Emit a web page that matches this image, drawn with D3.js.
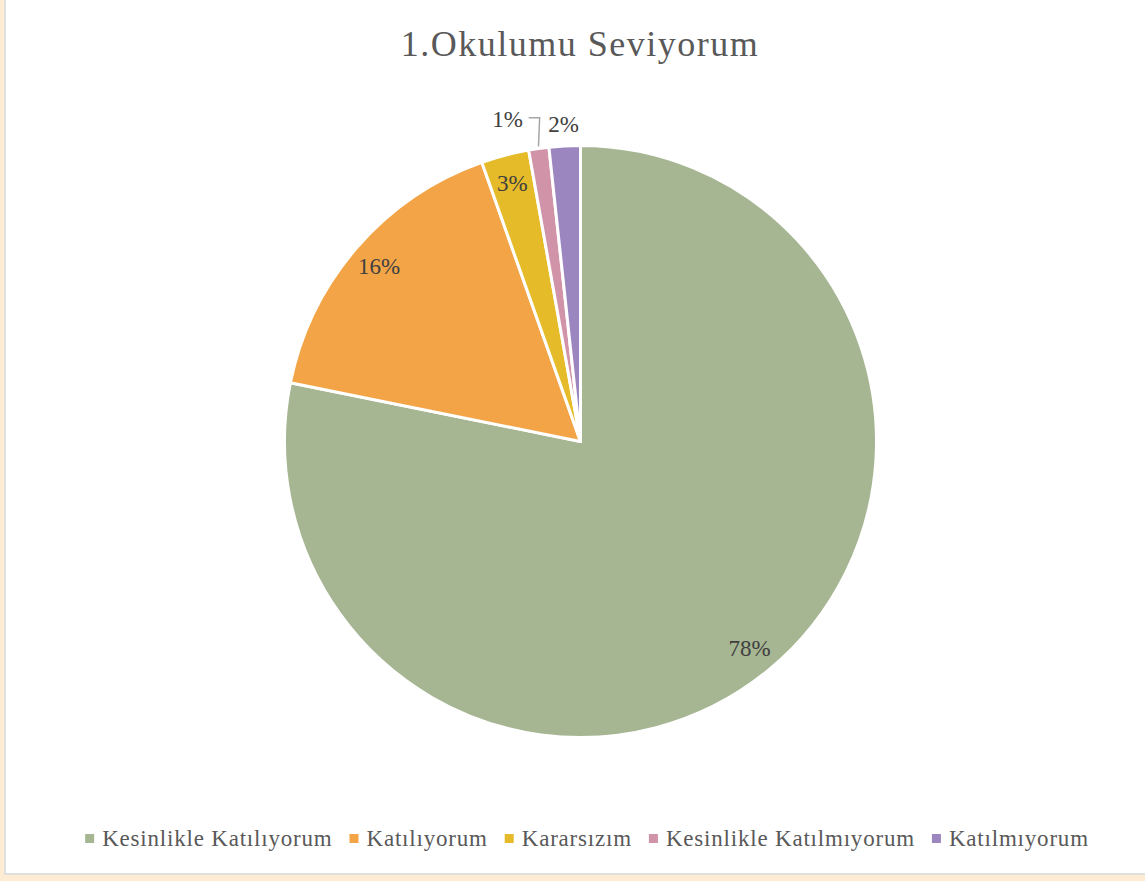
<!DOCTYPE html>
<html><head><meta charset="utf-8">
<script src="https://cdn.jsdelivr.net/npm/d3@7"></script>
<style>html,body{margin:0;padding:0;background:#fff;}svg{display:block;}</style>
</head><body>
<svg id="c" width="1145" height="881"></svg>
<script>
const categories = ["Kesinlikle Katılıyorum", "Katılıyorum", "Kararsızım", "Kesinlikle Katılmıyorum", "Katılmıyorum"];
const values = [78.1, 16.4, 2.6, 1.1, 1.7];
const colors = ["#a6b592", "#f3a447", "#e6bb2a", "#d193a8", "#9c86c0"];
const title = "1.Okulumu Seviyorum";

const W = 1145, H = 881;
const svg = d3.select("#c");
const FONT = "'Liberation Serif', serif";

// frame
svg.append("rect").attr("x",0).attr("y",0).attr("width",W).attr("height",H).attr("fill","#fdebd4");
svg.append("rect").attr("x",4).attr("y",-2).attr("width",W+2).attr("height",H-2-2).attr("fill","#e0e0e0");
svg.append("rect").attr("x",6).attr("y",-2).attr("width",W).attr("height",H-4-2).attr("fill","#ffffff");

svg.append("text").attr("x",580).attr("y",56).attr("text-anchor","middle")
  .attr("font-family",FONT).attr("font-size",36).attr("letter-spacing",1.5).attr("fill","#595959").text(title);

const cx = 580.5, cy = 441.5, R = 296;
const total = d3.sum(values);
const pie = d3.pie().sort(null).value(d=>d)(values);
const arc = d3.arc().innerRadius(0).outerRadius(R);
const g = svg.append("g").attr("transform",`translate(${cx},${cy})`);
g.selectAll("path").data(pie).join("path").attr("d",arc)
  .attr("fill",(d,i)=>colors[i]).attr("stroke","#fff").attr("stroke-width",3).attr("stroke-linejoin","round");

const pct = v => Math.round(v/total*100) + "%";
const inArc = d3.arc().innerRadius(267).outerRadius(267);
const outArc = d3.arc().innerRadius(318).outerRadius(318);
pie.forEach((d,i)=>{
  const small = (d.endAngle-d.startAngle) < 0.14;
  let [x,y] = small ? outArc.centroid(d) : inArc.centroid(d);
  if (i === 3) {
    const [ex,ey] = d3.arc().innerRadius(R+2).outerRadius(R+2).centroid(d);
    const lx = x - 28, ly = y - 8;
    g.append("polyline").attr("points",`${lx+21},${ly-1} ${lx+32},${ly-1} ${ex},${ey}`)
      .attr("fill","none").attr("stroke","#a6a6a6").attr("stroke-width",1.5);
    x = lx; y = ly;
  }
  g.append("text").attr("x",x).attr("y",y).attr("text-anchor","middle").attr("dy","0.35em")
    .attr("font-family",FONT).attr("font-size",23).attr("fill","#404040").text(pct(values[i]));
});

// legend
const lg = svg.append("g");
const lfs = 23, ls = 0.8;
const tmp = svg.append("text").attr("font-family",FONT).attr("font-size",lfs).attr("letter-spacing",ls);
const widths = categories.map(c=>{tmp.text(c); return tmp.node().getComputedTextLength();});
tmp.remove();
const gap = 17, sq = 9, sqGap = 8;
const totalW = d3.sum(widths) + categories.length*(sq+sqGap) + (categories.length-1)*gap;
let x0 = 587 - totalW/2;
categories.forEach((c,i)=>{
  lg.append("rect").attr("x",x0).attr("y",834).attr("width",sq).attr("height",sq).attr("fill",colors[i]);
  lg.append("text").attr("x",x0+sq+sqGap).attr("y",846).attr("font-family",FONT).attr("font-size",lfs)
    .attr("letter-spacing",ls).attr("fill","#595959").text(c);
  x0 += sq+sqGap+widths[i]+gap;
});
</script>
</body></html>
